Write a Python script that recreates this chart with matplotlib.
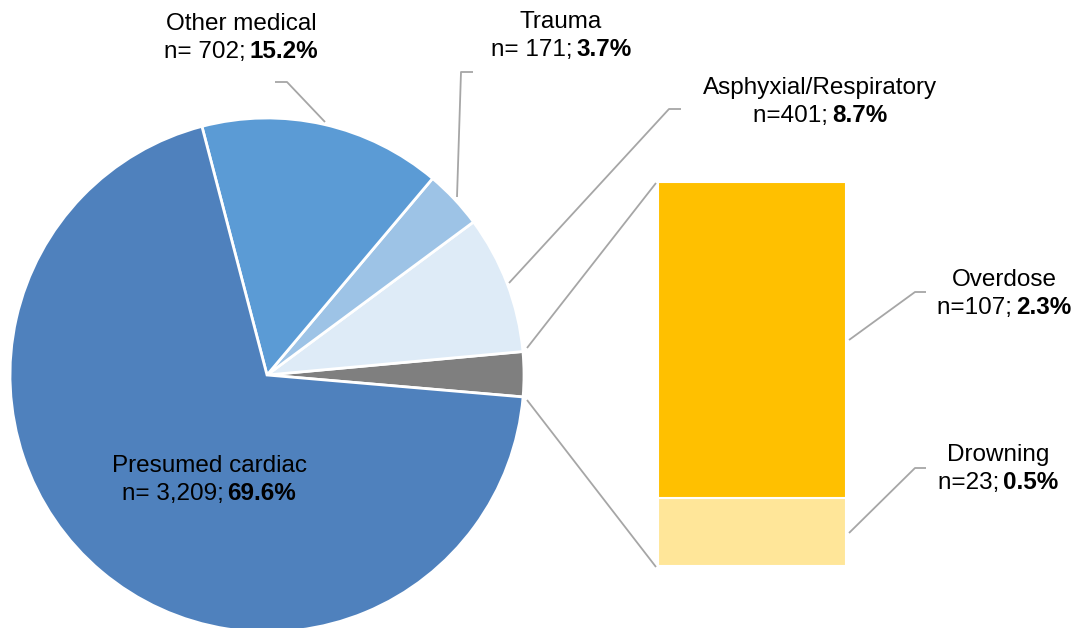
import matplotlib
matplotlib.use("Agg")
import matplotlib.pyplot as plt
from matplotlib.offsetbox import TextArea, HPacker, VPacker, AnnotationBbox

plt.rcParams["font.family"] = ["Liberation Sans", "DejaVu Sans"]

# pie: counts per category (the grey slice is overdose + drowning)
pie_labels = ["Overdose/Drowning", "Asphyxial/Respiratory", "Trauma",
              "Other medical", "Presumed cardiac"]
pie_counts = [130, 401, 171, 702, 3209]
pie_colors = ["#7F7F7F", "#DEEBF7", "#9DC3E6", "#5B9BD5", "#4F81BD"]

# breakout bar
bar_labels = ["Drowning", "Overdose"]
bar_counts = [23, 107]
bar_colors = ["#FFE699", "#FFC000"]

# label text: (title, "n=" part, bold percentage)
label_text = {
    "Other medical": ("Other medical", "n= 702; ", "15.2%"),
    "Trauma": ("Trauma", "n= 171; ", "3.7%"),
    "Asphyxial/Respiratory": ("Asphyxial/Respiratory", "n=401; ", "8.7%"),
    "Presumed cardiac": ("Presumed cardiac", "n= 3,209; ", "69.6%"),
    "Overdose": ("Overdose", "n=107; ", "2.3%"),
    "Drowning": ("Drowning", "n=23; ", "0.5%"),
}

W, H = 1081, 628
LINE = "#A6A6A6"
FS = 17.5


def px(x, y):
    # image pixel coords (y down) -> data coords (y up)
    return x, H - y


fig = plt.figure(figsize=(W / 100, H / 100), dpi=100)
ax = fig.add_axes([0, 0, 1, 1])

ax.pie(pie_counts, colors=pie_colors, startangle=-4.9, counterclock=True,
       center=px(267, 375), radius=257,
       wedgeprops=dict(edgecolor="white", linewidth=2))
ax.set_xlim(0, W)
ax.set_ylim(0, H)
ax.set_aspect("equal")
ax.axis("off")

# stacked bar for the grey slice
bax = fig.add_axes([658 / W, (H - 566) / H, 188 / W, 384 / H])
bottom = 0
for lab, c, col in zip(bar_labels, bar_counts, bar_colors):
    bax.bar(0, c, bottom=bottom, width=1, color=col, edgecolor="white",
            linewidth=1.5)
    bottom += c
bax.set_xlim(-0.5, 0.5)
bax.set_ylim(0, sum(bar_counts))
bax.axis("off")


def leader(points):
    xs, ys = zip(*[px(x, y) for x, y in points])
    ax.plot(xs, ys, color=LINE, lw=1.3, solid_capstyle="butt", zorder=1)


# connectors between pie slice and bar
leader([(527, 348), (656, 183)])
leader([(527, 400), (656, 567)])

# label leader lines
leader([(275, 82), (287, 82), (325, 122)])
leader([(473, 72), (461, 72), (457, 197)])
leader([(681, 109), (669, 109), (509, 283)])
leader([(926, 292), (915, 292), (849, 340)])
leader([(926, 468), (915, 468), (849, 533)])


def label(key, x, y):
    title, n_part, pct = label_text[key]
    props = dict(fontsize=FS, color="black")
    line1 = TextArea(title, textprops=props)
    line2 = HPacker(children=[TextArea(n_part, textprops=props),
                              TextArea(pct, textprops=dict(props, fontweight="bold"))],
                    align="baseline", pad=0, sep=-2)
    box = VPacker(children=[line1, line2], align="center", pad=0, sep=4)
    ab = AnnotationBbox(box, px(x, y), frameon=False, pad=0,
                        box_alignment=(0.5, 0.5))
    ax.add_artist(ab)


label("Other medical", 241, 38)
label("Trauma", 561, 36)
label("Asphyxial/Respiratory", 820, 102)
label("Presumed cardiac", 209, 480)
label("Overdose", 1004, 294)
label("Drowning", 998, 469)

fig.savefig("out.png", dpi=100)
